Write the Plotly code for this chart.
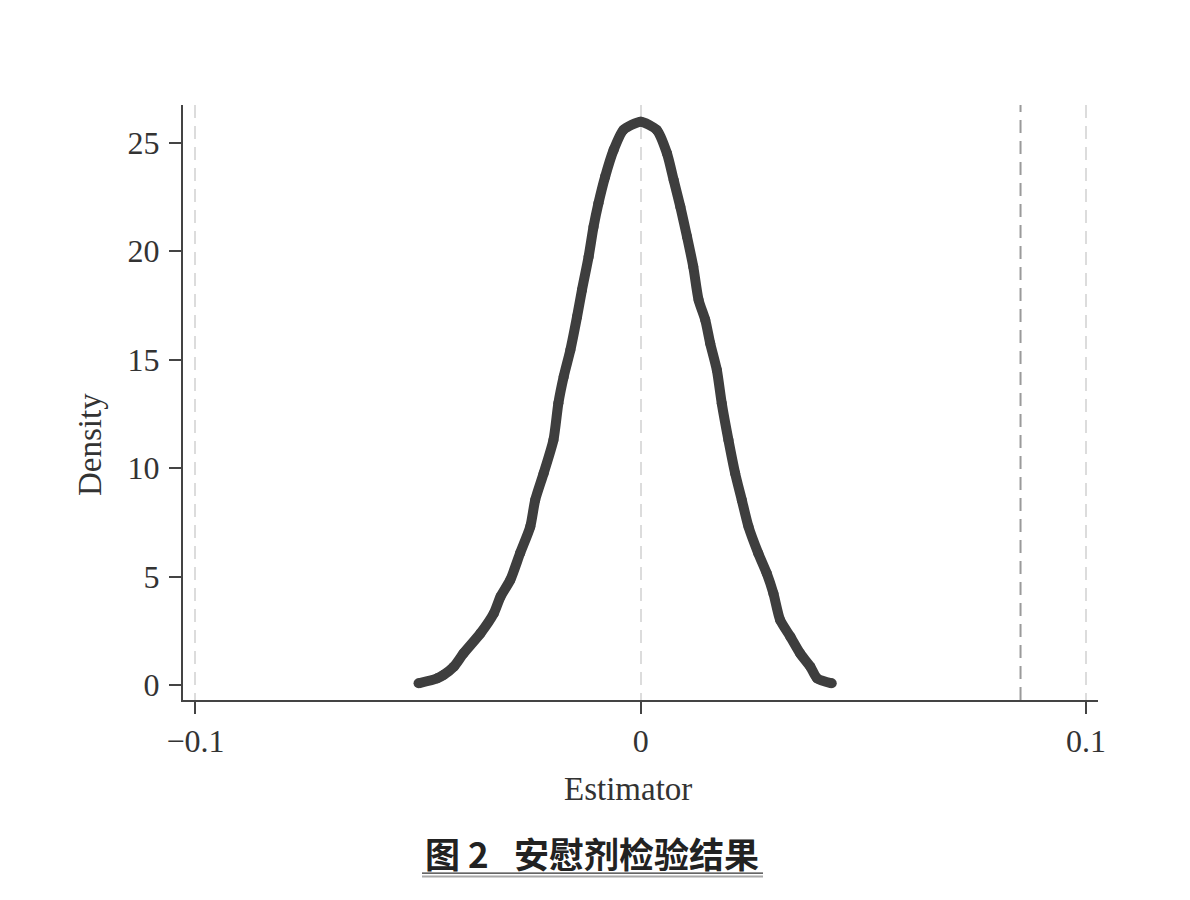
import plotly.graph_objects as go

# Density estimates (Estimator vs Density)
estimator = [-0.0499, -0.0457, -0.0443, -0.0420, -0.0398, -0.0360, -0.0330, -0.0315,
             -0.0293, -0.0271, -0.0248, -0.0237, -0.0218, -0.0196, -0.0185, -0.0173,
             -0.0158, -0.0143, -0.0132, -0.0117, -0.0106, -0.0095, -0.0080, -0.0061,
             -0.0039, 0.0000, 0.0036, 0.0059, 0.0074, 0.0089, 0.0104, 0.0118,
             0.0130, 0.0145, 0.0156, 0.0171, 0.0182, 0.0197, 0.0212, 0.0227,
             0.0242, 0.0264, 0.0283, 0.0298, 0.0313, 0.0336, 0.0358, 0.0381,
             0.0396, 0.0429]
density = [0.08, 0.31, 0.46, 0.84, 1.46, 2.38, 3.30, 4.07,
           4.84, 6.07, 7.30, 8.53, 9.76, 11.29, 12.98, 14.21,
           15.44, 16.97, 18.20, 19.74, 21.12, 22.20, 23.42, 24.65,
           25.58, 25.96, 25.58, 24.50, 23.27, 22.04, 20.66, 19.28,
           17.74, 16.82, 15.75, 14.52, 12.98, 11.29, 9.76, 8.53,
           7.30, 6.07, 5.15, 4.22, 3.00, 2.23, 1.46, 0.84,
           0.31, 0.08]

x_tickvals = [-0.1, 0, 0.1]
x_ticktext = ["\u22120.1", "0", "0.1"]
y_tickvals = [0, 5, 10, 15, 20, 25]
ref_line_x = 0.0853  # true estimate reference line

title_text = "图 2\u2002 安慰剂检验结果"
x_title = "Estimator"
y_title = "Density"

CURVE = "#3e3e3e"
AXIS = "#444444"
SERIF = "Liberation Serif, Times New Roman, serif"

fig = go.Figure()

fig.add_trace(go.Scatter(
    x=estimator, y=density, mode="lines+markers",
    line=dict(color=CURVE, width=10, shape="spline", smoothing=0.6),
    marker=dict(color=CURVE, size=10),
    showlegend=False, hoverinfo="x+y",
))

# reference dashed line
fig.add_shape(type="line", xref="x", yref="paper", x0=ref_line_x, x1=ref_line_x,
              y0=0, y1=1, line=dict(color="#9a9a9a", width=2, dash="13px,8px"),
              layer="below")

# title underline (double rule)
fig.add_shape(type="line", xref="paper", yref="paper", x0=0.2612, x1=0.6339,
              y0=-0.2908, y1=-0.2908, line=dict(color="#333333", width=1.3))
fig.add_shape(type="line", xref="paper", yref="paper", x0=0.2612, x1=0.6339,
              y0=-0.2966, y1=-0.2966, line=dict(color="#a8a8a8", width=2.2))

fig.add_annotation(text="<b>" + title_text + "</b>", xref="paper", yref="paper",
                   x=0.4475, y=-0.257, xanchor="center", yanchor="middle",
                   showarrow=False,
                   font=dict(family="Noto Sans CJK SC", size=35, color="#222222"))
fig.add_annotation(text=x_title, xref="paper", yref="paper",
                   x=(628 - 183) / 915, y=(700 - 789) / 595,
                   xanchor="center", yanchor="middle", showarrow=False,
                   font=dict(family=SERIF, size=33, color="#333333"))
fig.add_annotation(text=y_title, xref="paper", yref="paper",
                   x=(90 - 183) / 915, y=(700 - 445) / 595, textangle=-90,
                   xanchor="center", yanchor="middle", showarrow=False,
                   font=dict(family=SERIF, size=33, color="#333333"))

fig.update_xaxes(
    range=[-0.1028, 0.1027], tickvals=x_tickvals, ticktext=x_ticktext,
    showline=True, linecolor=AXIS, linewidth=2,
    ticks="outside", ticklen=12, tickwidth=2, tickcolor=AXIS,
    showgrid=True, gridcolor="#dcdcdc", gridwidth=1.5, griddash="13px,8px",
    zeroline=False, tickfont=dict(family=SERIF, size=32, color="#333333"),
)
fig.update_yaxes(
    range=[-0.69, 26.73], tickvals=y_tickvals,
    showline=True, linecolor=AXIS, linewidth=2,
    ticks="outside", ticklen=12, tickwidth=2, tickcolor=AXIS,
    showgrid=False, zeroline=False, ticklabelstandoff=3,
    tickfont=dict(family=SERIF, size=32, color="#333333"),
)

fig.update_layout(
    width=1174, height=884,
    margin=dict(l=175, r=84, t=97, b=192),
    plot_bgcolor="white", paper_bgcolor="white",
    showlegend=False,
)

fig.write_html("out.html")
